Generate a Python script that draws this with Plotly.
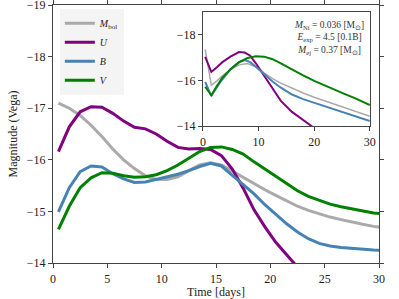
import plotly.graph_objects as go

# ---- main panel data (days, Vega magnitudes) ----
t_main = [0.5, 1.5, 2.5, 3.5, 4.5, 5.5, 6.5, 7.5, 8.5, 9.5, 10.5, 11.5, 12.5, 13.5, 14.5,
          15.5, 16.5, 17.5, 18.5, 19.5, 20.5, 21.5, 22.5, 23.5, 24.5, 25.5, 26.5, 27.5,
          28.5, 29.5, 30.5]
mbol_main = [-17.10, -17.00, -16.86, -16.67, -16.45, -16.21, -16.00, -15.83, -15.69, -15.62,
             -15.62, -15.67, -15.79, -15.90, -15.94, -15.90, -15.78, -15.66, -15.53, -15.42,
             -15.31, -15.20, -15.10, -15.02, -14.95, -14.89, -14.84, -14.79, -14.75, -14.71,
             -14.68]
u_main = [-16.16, -16.64, -16.93, -17.03, -17.02, -16.90, -16.75, -16.63, -16.60, -16.50,
          -16.36, -16.24, -16.21, -16.22, -16.20, -16.08, -15.82, -15.45, -15.03, -14.70,
          -14.40, -14.15, -13.92, -13.70, -13.50, -13.30, -13.10, -12.95, -12.80, -12.65,
          -12.50]
b_main = [-14.99, -15.46, -15.77, -15.88, -15.86, -15.73, -15.63, -15.56, -15.57, -15.62,
          -15.67, -15.72, -15.79, -15.87, -15.93, -15.88, -15.70, -15.52, -15.34, -15.13,
          -14.94, -14.76, -14.60, -14.47, -14.38, -14.33, -14.30, -14.28, -14.26, -14.25,
          -14.24]
v_main = [-14.65, -15.10, -15.46, -15.65, -15.75, -15.74, -15.69, -15.66, -15.67, -15.71,
          -15.79, -15.90, -16.03, -16.16, -16.24, -16.25, -16.20, -16.11, -15.96, -15.82,
          -15.67, -15.53, -15.40, -15.29, -15.21, -15.14, -15.09, -15.05, -15.01, -14.97,
          -14.95]

# ---- inset data ----
t_in = [0.4, 1.5, 2.5, 3.5, 5, 6.5, 8, 9.5, 11, 12.5, 14, 16, 18, 20, 22.5, 25, 27.5, 30]
mbol_in = [-17.36, -15.78, -15.98, -16.20, -16.48, -16.68, -16.74, -16.60, -16.33, -16.08,
           -15.88, -15.65, -15.45, -15.26, -15.05, -14.83, -14.63, -14.43]
t_in_u = [0.4, 1.5, 2.5, 3.5, 5, 6.5, 7.5, 8.5, 9.5, 11, 12.5, 14, 16, 18, 19.5, 20.5]
u_in = [-17.03, -16.37, -16.58, -16.80, -17.05, -17.24, -17.22, -17.08, -16.75, -16.20,
        -15.60, -15.10, -14.62, -14.25, -14.00, -13.85]
t_in_b = [0.4, 1.5, 2.5, 3.5, 5, 6.5, 7.5, 8.5, 9.5, 11, 12.5, 14, 16, 18, 20, 22.5, 25, 27.5, 30]
b_in = [-15.93, -15.32, -15.70, -16.05, -16.50, -16.80, -16.89, -16.80, -16.60, -16.27,
        -15.95, -15.68, -15.38, -15.18, -15.02, -14.83, -14.65, -14.45, -14.22]
v_in = [-15.72, -15.35, -15.75, -16.12, -16.50, -16.80, -16.98, -17.06, -17.04, -16.93,
        -16.75, -16.48, -16.22, -15.98, -15.70, -15.45, -15.20, -14.92]

labels = ["<i>M</i><sub>bol</sub>", "<i>U</i>", "<i>B</i>", "<i>V</i>"]
colors = ["#aaaaaa", "#800080", "#4682b4", "#008000"]

x_ticks = [0, 5, 10, 15, 20, 25, 30]
y_ticks = [-19, -18, -17, -16, -15, -14]
ann_text = ("<i>M</i><sub>Ni</sub> = 0.036 [M<sub>⊙</sub>]<br>"
            "<i>E</i><sub>exp</sub> = 4.5 [0.1B]<br>"
            "<i>M</i><sub>ej</sub> = 0.37 [M<sub>⊙</sub>]")

FONT = "Liberation Serif, Times New Roman, serif"

fig = go.Figure()
main_series = [mbol_main, u_main, b_main, v_main]
for lab, col, ys in zip(labels, colors, main_series):
    fig.add_trace(go.Scatter(x=t_main, y=ys, mode="lines", name=lab,
                             line=dict(color=col, width=3), xaxis="x", yaxis="y"))

inset_series = [(t_in, mbol_in, 1.5), (t_in_u, u_in, 2), (t_in_b, b_in, 2), (t_in, v_in, 2)]
for (tx, ys, w), col in zip(inset_series, colors):
    fig.add_trace(go.Scatter(x=tx, y=ys, mode="lines", showlegend=False,
                             line=dict(color=col, width=w), xaxis="x2", yaxis="y2"))

axis_common = dict(showgrid=False, zeroline=False, showline=True, linecolor="#444",
                   linewidth=1.3, ticks="outside", ticklen=4, tickcolor="#444",
                   automargin=False, ticklabeloverflow="allow",
                   tickfont=dict(family=FONT, size=12, color="#222"))

fig.update_layout(
    width=399, height=299,
    margin=dict(l=53, r=20, t=5, b=36),
    paper_bgcolor="white", plot_bgcolor="white",
    font=dict(family=FONT, size=12, color="#222"),
    xaxis=dict(range=[0, 30], tickvals=x_ticks, mirror="ticks",
               title=dict(text="Time [days]", font=dict(family=FONT, size=12), standoff=0),
               **axis_common),
    yaxis=dict(range=[-14, -19], tickvals=y_ticks, mirror="ticks",
               title=dict(text="Magnitude (Vega)", font=dict(family=FONT, size=12), standoff=6),
               **axis_common),
    xaxis2=dict(domain=[0.46, 0.972], anchor="y2", range=[0, 30], tickvals=[0, 10, 20, 30],
                mirror=True, **axis_common),
    yaxis2=dict(domain=[0.531, 0.973], anchor="x2", range=[-14, -19], tickvals=[-18, -16, -14],
                mirror=True, **axis_common),
    legend=dict(x=0.021, y=0.985, xanchor="left", yanchor="top",
                bgcolor="#f4f4f4", borderwidth=0,
                font=dict(family=FONT, size=10, color="#222"),
                tracegroupgap=0, itemwidth=30),
    showlegend=True,
    annotations=[dict(xref="x2", yref="y2", x=29.3, y=-18.75, xanchor="right", yanchor="top",
                      text=ann_text, showarrow=False, align="center",
                      font=dict(family=FONT, size=9.5, color="#333"))],
)

fig.write_html("out.html", post_script="document.body.style.margin='0';",
               config={"displayModeBar": False})
